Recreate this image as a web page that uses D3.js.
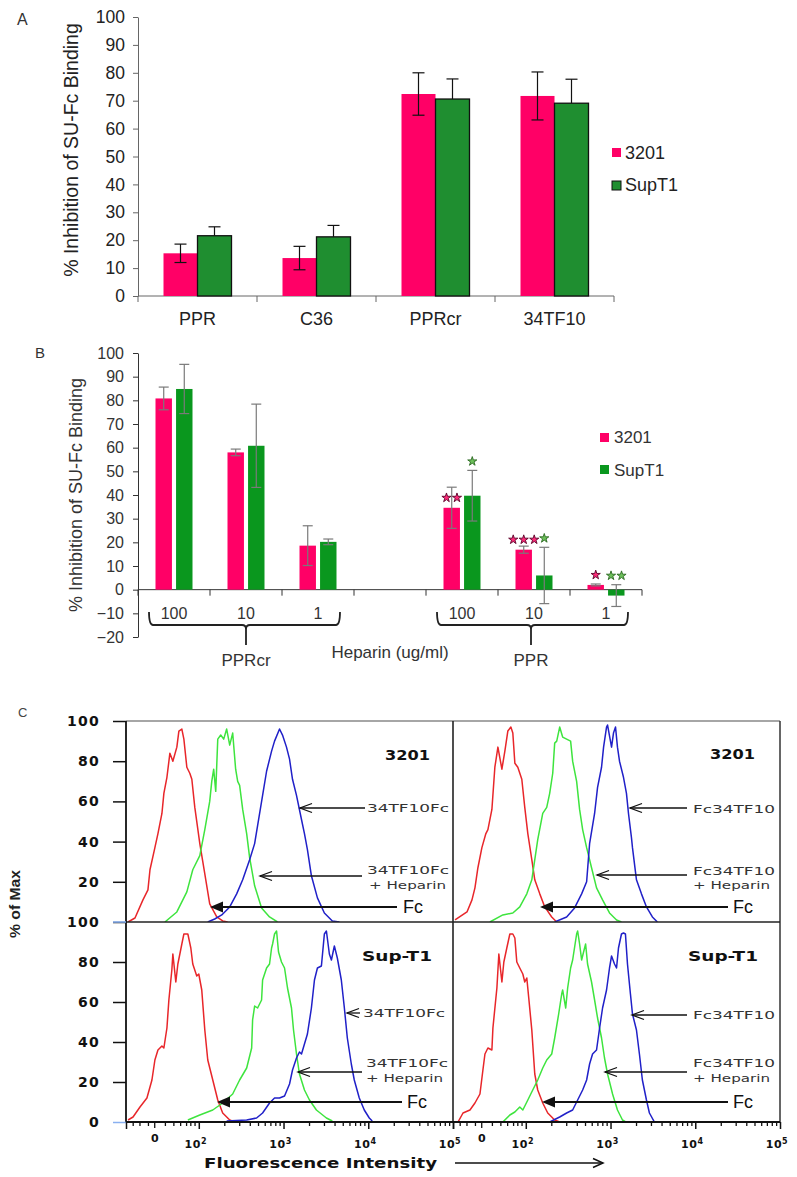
<!DOCTYPE html>
<html><head><meta charset="utf-8">
<script src="https://cdn.jsdelivr.net/npm/d3@7"></script>
<style>
body{margin:0;background:#fff}
svg{display:block}
text{font-family:"Liberation Sans",Arial,Helvetica,sans-serif}
</style></head><body>
<svg id="fig" width="797" height="1177"></svg>
<script>
// ---------------- DATA ----------------
// Panel A
const catsA = ["PPR","C36","PPRcr","34TF10"];
const seriesNames = ["3201","SupT1"];
const a3201 = [15.3,13.6,72.4,71.7];
const a3201Err = [3.3,4.2,7.6,8.6];
const aSupT1 = [21.6,21.2,70.6,69.1];
const aSupT1Err = [3.2,4.1,7.2,8.6];
const ticksA = [0,10,20,30,40,50,60,70,80,90,100];

// Panel B
const slotsB = ["PPRcr-100","PPRcr-10","PPRcr-1","blank","PPR-100","PPR-10","PPR-1"];
const concB  = ["100","10","1","","100","10","1"];
const groupNamesB = ["PPRcr","PPR"];
const groupSlotsB = [["PPRcr-100","PPRcr-1"],["PPR-100","PPR-1"]];
const b3201     = [80.8,58.0,18.6,null,34.6,16.9,2.0];
const b3201Err  = [4.8,1.4,8.4,null,8.7,1.5,0.4];
const bSupT1    = [84.8,60.8,20.2,null,39.7,6.0,-2.5];
const bSupT1Err = [10.4,17.6,1.2,null,10.7,11.9,4.6];
const stars3201  = [0,0,0,0,2,3,1];
const starsSupT1 = [0,0,0,0,1,1,2];
const ticksB = [-20,-10,0,10,20,30,40,50,60,70,80,90,100];

// Panel C  (x in decade units of the logicle display, y in % of max)
const xDomainC = [1.141,5];
const yTicksTopC = [20,40,60,80,100];
const yTicksBotC = [0,20,40,60,80,100];
const majorC = [2,3,4,5];
const majorExpC = ["2","3","4","5"];
const zeroC = 1.48;
const minorLeftC = [1.22,1.3,1.4,1.6,1.7,1.78,1.85,1.9,1.95];

const tlRed = [[1.165,0],[1.247,2],[1.341,11],[1.4,16],[1.424,26],[1.482,37],[1.518,44],[1.565,54],[1.588,64],[1.624,72],[1.659,84],[1.694,80],[1.741,87],[1.765,95],[1.8,96],[1.824,91],[1.859,77],[1.894,74],[1.918,71],[1.953,57],[2.012,39],[2.071,24],[2.129,9],[2.212,2.5],[2.282,0.5],[2.34,0]];
const tlGreen = [[1.6,0],[1.741,5],[1.859,15],[1.929,26],[2.012,33],[2.071,46],[2.129,60],[2.153,70],[2.176,76],[2.2,65],[2.224,91],[2.259,93],[2.294,91],[2.329,96],[2.365,88],[2.4,94],[2.435,76],[2.459,70],[2.482,68],[2.518,56],[2.565,44],[2.6,32],[2.659,18],[2.741,7],[2.835,2.5],[2.929,0]];
const tlBlue = [[2.106,0],[2.188,1.5],[2.271,3.5],[2.365,7.5],[2.447,14],[2.518,21],[2.6,31],[2.659,39],[2.694,48],[2.753,63],[2.8,75],[2.859,85],[2.894,90],[2.953,96],[2.988,93],[3.035,87],[3.071,81],[3.106,71],[3.153,63],[3.212,51],[3.247,44],[3.282,36],[3.329,23],[3.4,12],[3.482,4.5],[3.576,0.5],[3.659,0]];
const trRed = [[1.165,1],[1.306,5],[1.365,11],[1.4,17],[1.435,27],[1.482,37],[1.529,44],[1.553,46],[1.6,56],[1.635,77],[1.671,87],[1.718,76],[1.753,85],[1.788,95],[1.824,97],[1.847,94],[1.871,79],[1.906,77],[1.953,71],[1.988,57],[2.024,44],[2.071,31],[2.106,21],[2.165,14],[2.224,7.5],[2.306,2.5],[2.365,0]];
const trGreen = [[1.576,0],[1.729,3.5],[1.847,4.5],[1.929,7.5],[2.012,14],[2.071,21],[2.141,41],[2.2,54],[2.247,57],[2.282,64],[2.318,74],[2.341,89],[2.365,90],[2.4,97],[2.435,92],[2.482,91],[2.529,90],[2.553,80],[2.6,70],[2.635,56],[2.671,46],[2.718,37],[2.776,27],[2.835,17],[2.906,11],[2.988,4.5],[3.071,1],[3.129,0]];
const trBlue = [[2.341,0],[2.482,2.5],[2.576,7],[2.659,14],[2.718,20],[2.753,39],[2.812,54],[2.847,67],[2.894,77],[2.918,87],[2.953,97],[2.965,98],[3.012,87],[3.035,94],[3.059,97],[3.082,87],[3.106,80],[3.153,72],[3.188,64],[3.212,54],[3.247,42],[3.259,37],[3.306,21],[3.365,14],[3.424,7.5],[3.494,2.5],[3.553,0]];
const blRed = [[1.165,1],[1.224,2.5],[1.306,7.5],[1.388,12],[1.447,21],[1.482,31],[1.518,36],[1.565,38],[1.588,37],[1.624,47],[1.647,61],[1.682,76],[1.694,84],[1.729,70],[1.753,79],[1.8,89],[1.824,94],[1.847,94],[1.871,94],[1.906,87],[1.929,79],[1.976,73],[2.0,74],[2.035,66],[2.071,46],[2.106,31],[2.165,21],[2.224,11],[2.282,4.5],[2.365,1],[2.424,0]];
const blGreen = [[1.871,1],[2.012,3.5],[2.165,6],[2.282,9.5],[2.4,14],[2.482,21],[2.565,27],[2.624,37],[2.635,51],[2.659,58],[2.694,57],[2.741,61],[2.753,71],[2.8,77],[2.835,79],[2.859,87],[2.871,89],[2.894,94],[2.918,95.5],[2.941,85],[2.976,80],[3.012,77],[3.047,67],[3.094,57],[3.118,46],[3.153,34],[3.188,24],[3.247,16],[3.306,11],[3.388,6],[3.506,2],[3.576,0.5]];
const blBlue = [[2.329,0.5],[2.565,1],[2.682,2],[2.753,4.5],[2.835,9.5],[2.894,12],[2.953,12],[3.012,13],[3.071,19],[3.106,26],[3.153,32],[3.188,35],[3.212,34],[3.247,39],[3.282,44],[3.329,57],[3.365,71],[3.4,77],[3.447,78],[3.482,94],[3.506,95.5],[3.541,84],[3.565,81],[3.6,88],[3.635,82],[3.682,71],[3.718,57],[3.753,42],[3.8,29],[3.835,21],[3.894,12],[3.953,6],[4.012,2],[4.047,0.5]];
const brRed = [[1.2,0],[1.259,4.5],[1.341,6],[1.4,9.5],[1.459,14],[1.494,26],[1.518,34],[1.553,37],[1.6,36],[1.612,47],[1.659,67],[1.682,84],[1.718,70],[1.741,80],[1.776,87],[1.812,94],[1.847,94],[1.871,92],[1.894,80],[1.929,77],[1.965,74],[1.988,70],[2.012,72],[2.035,62],[2.071,46],[2.106,24],[2.141,16],[2.2,9.5],[2.259,4.5],[2.341,1],[2.4,0]];
const brGreen = [[1.729,0],[1.812,3.5],[1.871,5],[1.929,7.5],[1.965,6],[2.024,11],[2.082,16],[2.141,21],[2.2,27],[2.247,31],[2.306,34],[2.341,42],[2.388,54],[2.424,64],[2.435,66],[2.471,57],[2.494,67],[2.529,77],[2.553,81],[2.6,94],[2.612,95.5],[2.635,89],[2.659,81],[2.682,85],[2.706,89],[2.729,79],[2.776,70],[2.812,61],[2.847,52],[2.894,42],[2.929,32],[2.965,24],[3.024,14],[3.082,6],[3.141,1],[3.18,0]];
const brBlue = [[2.282,0],[2.4,2.5],[2.482,4.5],[2.553,6],[2.612,11],[2.671,16],[2.718,21],[2.753,29],[2.788,34],[2.835,36],[2.871,47],[2.906,57],[2.953,66],[2.988,77],[3.012,83],[3.047,79],[3.071,77],[3.094,87],[3.129,94],[3.153,94.5],[3.176,94],[3.2,79],[3.235,64],[3.259,54],[3.306,46],[3.341,34],[3.376,21],[3.424,11],[3.459,4.5],[3.518,0]];

// ---------------- DRAW ----------------
const svg = d3.select("#fig");
const PINK = "#FF0066", GREEN_A = "#1F8E30", GREEN_B = "#0A971E";

// ===== Panel A =====
const gA = svg.append("g");
gA.append("text").attr("x",17).attr("y",25).attr("font-size",16).attr("fill","#333").text("A");
const xA = d3.scaleBand().domain(catsA).range([138,614]);
const sA = d3.scaleBand().domain(seriesNames).range([xA.bandwidth()/2-34, xA.bandwidth()/2+34]);
const yA = d3.scaleLinear().domain([0,100]).range([296,17]);

const yAxA = gA.append("g").attr("transform","translate(138,0)")
  .call(d3.axisLeft(yA).tickValues(ticksA).tickSize(5).tickSizeOuter(0).tickPadding(8));
yAxA.selectAll("text").attr("font-size",17.5).attr("fill","#222").style("font-family","Liberation Sans,Arial,sans-serif");
yAxA.selectAll("line,path").attr("stroke","#666");

const xAxA = gA.append("g").attr("transform","translate(0,296)")
  .call(d3.axisBottom(xA).tickSize(0).tickPadding(16));
xAxA.select(".domain").remove();
xAxA.selectAll("text").attr("font-size",18).attr("fill","#222").style("font-family","Liberation Sans,Arial,sans-serif");
gA.append("line").attr("x1",138).attr("x2",614).attr("y1",296).attr("y2",296).attr("stroke","#666");
gA.selectAll(".bndA").data(catsA.map(c=>xA(c)).concat([xA.range()[1]])).enter().append("line")
  .attr("x1",d=>d).attr("x2",d=>d).attr("y1",296).attr("y2",302).attr("stroke","#666");

const dataA = catsA.map((c,i)=>({c, s:[{k:"3201",v:a3201[i],e:a3201Err[i]},{k:"SupT1",v:aSupT1[i],e:aSupT1Err[i]}]}));
dataA.forEach(d=>{
  d.s.forEach(s=>{
    const x0 = xA(d.c)+sA(s.k), w = sA.bandwidth();
    gA.append("rect").attr("x",x0).attr("y",yA(s.v)).attr("width",w).attr("height",yA(0)-yA(s.v))
      .attr("fill", s.k==="3201"?PINK:GREEN_A)
      .attr("stroke", s.k==="3201"?"none":"#111").attr("stroke-width",1.3);
    const cx = x0+w/2;
    const lo = s.k==="3201" ? s.v - s.e : s.v;
    gA.append("line").attr("x1",cx).attr("x2",cx).attr("y1",yA(s.v+s.e)).attr("y2",yA(lo)).attr("stroke","#111").attr("stroke-width",1.2);
    gA.append("line").attr("x1",cx-6).attr("x2",cx+6).attr("y1",yA(s.v+s.e)).attr("y2",yA(s.v+s.e)).attr("stroke","#111").attr("stroke-width",1.2);
    if (s.k==="3201") gA.append("line").attr("x1",cx-6).attr("x2",cx+6).attr("y1",yA(lo)).attr("y2",yA(lo)).attr("stroke","#111").attr("stroke-width",1.2);
  });
});
gA.append("text").attr("transform","translate(78,150) rotate(-90)").attr("text-anchor","middle")
  .attr("font-size",19.5).attr("fill","#222").text("% Inhibition of SU-Fc Binding");
// legend A
gA.append("rect").attr("x",612).attr("y",148).attr("width",9).attr("height",9).attr("fill",PINK);
gA.append("rect").attr("x",612).attr("y",181).attr("width",9).attr("height",9).attr("fill",GREEN_A).attr("stroke","#111").attr("stroke-width",1);
gA.append("text").attr("x",625).attr("y",159).attr("font-size",18).attr("fill","#222").text(seriesNames[0]);
gA.append("text").attr("x",625).attr("y",191).attr("font-size",18).attr("fill","#222").text(seriesNames[1]);

// ===== Panel B =====
const gB = svg.append("g");
gB.append("text").attr("x",35).attr("y",358).attr("font-size",15).attr("fill","#333").text("B");
const xB = d3.scaleBand().domain(slotsB).range([138,642]);
const sB = d3.scaleBand().domain(seriesNames).range([xB.bandwidth()/2-18.5, xB.bandwidth()/2+18.5]).paddingInner(0.2);
const yB = d3.scaleLinear().domain([-20,100]).range([637,353]);

const yAxB = gB.append("g").attr("transform","translate(138,0)")
  .call(d3.axisLeft(yB).tickValues(ticksB).tickSize(5).tickSizeOuter(0).tickPadding(9));
yAxB.selectAll("text").attr("font-size",16).attr("fill","#333").style("font-family","Liberation Sans,Arial,sans-serif");
yAxB.selectAll("line,path").attr("stroke","#333");

const xAxB = gB.append("g").attr("transform",`translate(0,${yB(0)})`)
  .call(d3.axisBottom(xB).tickSize(0).tickPadding(18).tickFormat((d,i)=>concB[i]));
xAxB.select(".domain").remove();
xAxB.selectAll("text").attr("font-size",16).attr("fill","#333").style("font-family","Liberation Sans,Arial,sans-serif");
gB.append("line").attr("x1",138).attr("x2",642).attr("y1",yB(0)).attr("y2",yB(0)).attr("stroke","#333");
gB.selectAll(".bndB").data(slotsB.map(c=>xB(c)).concat([xB.range()[1]])).enter().append("line")
  .attr("x1",d=>d).attr("x2",d=>d).attr("y1",yB(0)).attr("y2",yB(0)+6).attr("stroke","#333");

const starSym = d3.symbol().type(d3.symbolStar).size(26);
slotsB.forEach((slot,i)=>{
  if (b3201[i]===null) return;
  [{k:"3201",v:b3201[i],e:b3201Err[i],n:stars3201[i]},{k:"SupT1",v:bSupT1[i],e:bSupT1Err[i],n:starsSupT1[i]}].forEach(s=>{
    const x0 = xB(slot)+sB(s.k), w = sB.bandwidth(), cx = x0+w/2;
    gB.append("rect").attr("x",x0).attr("y",yB(Math.max(0,s.v))).attr("width",w)
      .attr("height",Math.abs(yB(0)-yB(s.v))).attr("fill",s.k==="3201"?PINK:GREEN_B);
    const top = yB(s.v+s.e), bot = yB(s.v-s.e);
    gB.append("line").attr("x1",cx).attr("x2",cx).attr("y1",top).attr("y2",bot).attr("stroke","#7a7a7a").attr("stroke-width",1.2);
    [top,bot].forEach(yy=>gB.append("line").attr("x1",cx-5).attr("x2",cx+5).attr("y1",yy).attr("y2",yy).attr("stroke","#7a7a7a").attr("stroke-width",1.2));
    if (s.n>0){
      const sy = s.k==="3201" ? yB(Math.max(0,s.v))-10 : top-9;
      for (let j=0;j<s.n;j++){
        const sx = cx + (j-(s.n-1)/2)*10.5;
        gB.append("path").attr("d",starSym()).attr("transform",`translate(${sx},${sy})`)
          .attr("fill", s.k==="3201"?"#FF2A78":"#6CC05A")
          .attr("stroke", s.k==="3201"?"#5A0028":"#2C6A22").attr("stroke-width",0.9);
      }
    }
  });
});
// braces
groupSlotsB.forEach((gs,gi)=>{
  const x0 = xB(gs[0])+11, x1 = xB(gs[1])+xB.bandwidth()-14;
  const xm = xB(slotsB[slotsB.indexOf(gs[0])+1])+xB.bandwidth()/2 - (gi?3:0);
  const yt = 612, yh = 625, ys = 645;
  gB.append("path").attr("d",
    `M${x0},${yt} Q${x0},${yh} ${x0+4},${yh} L${xm-4},${yh} Q${xm},${yh} ${xm},${yh+4} L${xm},${ys} M${xm},${yh+4} Q${xm},${yh} ${xm+4},${yh} L${x1-4},${yh} Q${x1},${yh} ${x1},${yt}`)
    .attr("fill","none").attr("stroke","#222").attr("stroke-width",1.8);
  gB.append("text").attr("x",xm).attr("y",666).attr("text-anchor","middle").attr("font-size",17).attr("fill","#333").text(groupNamesB[gi]);
});
gB.append("text").attr("x",390).attr("y",658).attr("text-anchor","middle").attr("font-size",17).attr("fill","#333").text("Heparin (ug/ml)");
gB.append("text").attr("transform","translate(82,495) rotate(-90)").attr("text-anchor","middle")
  .attr("font-size",18).attr("fill","#333").text("% Inhibition of SU-Fc Binding");
gB.append("rect").attr("x",600).attr("y",433).attr("width",9).attr("height",9).attr("fill",PINK);
gB.append("rect").attr("x",600).attr("y",465).attr("width",9).attr("height",9).attr("fill",GREEN_B);
gB.append("text").attr("x",614).attr("y",443).attr("font-size",17).attr("fill","#333").text(seriesNames[0]);
gB.append("text").attr("x",614).attr("y",476).attr("font-size",17).attr("fill","#333").text(seriesNames[1]);

// ===== Panel C =====
const gC = svg.append("g");
gC.append("text").attr("x",18).attr("y",717).attr("font-size",13).attr("fill","#444").text("C");
const colL = [126,453], colR = [453,780], rowT = [721,922], rowB = [922,1122];
const xC = [d3.scaleLinear().domain(xDomainC).range(colL), d3.scaleLinear().domain(xDomainC).range(colR)];
const yC = [d3.scaleLinear().domain([0,100]).range([rowT[1],rowT[0]]), d3.scaleLinear().domain([0,100]).range([rowB[1],rowB[0]])];
const defs = svg.append("defs");
const quads = [
  {id:"tl", xi:0, yi:0, curves:[tlRed,tlGreen,tlBlue], label:"3201", ann:"34TF10Fc"},
  {id:"tr", xi:1, yi:0, curves:[trRed,trGreen,trBlue], label:"3201", ann:"Fc34TF10"},
  {id:"bl", xi:0, yi:1, curves:[blRed,blGreen,blBlue], label:"Sup-T1", ann:"34TF10Fc"},
  {id:"br", xi:1, yi:1, curves:[brRed,brGreen,brBlue], label:"Sup-T1", ann:"Fc34TF10"}
];
const curveColors = ["#E8262A","#3EE43E","#2020C8"];
quads.forEach(q=>{
  const x = xC[q.xi], y = yC[q.yi];
  const [l,r] = x.range(), [b,t] = y.range();
  defs.append("clipPath").attr("id","clip-"+q.id).append("rect").attr("x",l).attr("y",t-2).attr("width",r-l).attr("height",b-t+2);
  const line = d3.line().x(d=>x(d[0])).y(d=>y(d[1]));
  const gq = gC.append("g").attr("clip-path",`url(#clip-${q.id})`);
  q.curves.forEach((c,ci)=>{
    gq.append("path").attr("d",line(c)).attr("fill","none").attr("stroke",curveColors[ci]).attr("stroke-width",1.5).attr("stroke-linejoin","round");
  });
});
// frame
const fr = (x1,y1,x2,y2,c,w)=>gC.append("line").attr("x1",x1).attr("y1",y1).attr("x2",x2).attr("y2",y2).attr("stroke",c).attr("stroke-width",w);
fr(126,721,780,721,"#888",1.5);
fr(780,721,780,1122,"#333",1.5);
fr(453,721,453,1122,"#222",1.6);
fr(126,922,780,922,"#222",1.6);
fr(126,1122,780,1122,"#111",1.8);
fr(126,721,126,1122,"#111",1.8);

// y axes
[[yC[0],yTicksTopC],[yC[1],yTicksBotC]].forEach(([ys,tv],k)=>{
  const ax = gC.append("g").attr("transform","translate(126,0)")
    .call(d3.axisLeft(ys).tickValues(tv).tickSize(13).tickSizeOuter(0).tickPadding(13));
  ax.select(".domain").remove();
  ax.selectAll("text").attr("font-size",14).attr("font-weight","bold").attr("letter-spacing",1.3)
    .attr("fill","#111").style("font-family","DejaVu Sans,sans-serif");
  ax.selectAll("line").attr("stroke",d=>d===0?"#8AB0F0":"#111").attr("stroke-width",1.5);
});
fr(113,922,126,922,"#8AB0F0",1.6);

// x axes (bottom)
xC.forEach(xs=>{
  const minors = minorLeftC.concat(d3.range(2,5).flatMap(dd=>d3.range(2,10).map(k=>Math.log10(k)+dd)));
  const axm = gC.append("g").attr("transform","translate(0,1122)")
    .call(d3.axisBottom(xs).tickValues(minors).tickSize(4).tickSizeOuter(0).tickFormat(""));
  axm.select(".domain").remove();
  axm.selectAll("line").attr("stroke","#111").attr("stroke-width",1.3);
  const axM = gC.append("g").attr("transform","translate(0,1122)")
    .call(d3.axisBottom(xs).tickValues([xDomainC[0]].concat(majorC)).tickSize(7).tickSizeOuter(0).tickPadding(10).tickFormat(""));
  axM.select(".domain").remove();
  axM.selectAll("line").attr("stroke","#111").attr("stroke-width",1.5);
  majorC.forEach((v,i)=>{
    const t = gC.append("text").attr("x",xs(v)-3).attr("y",1148).attr("text-anchor","middle").attr("font-size",11)
      .attr("font-weight","bold").attr("fill","#111").attr("letter-spacing",0.5).style("font-family","DejaVu Sans,sans-serif");
    t.append("tspan").text("10");
    t.append("tspan").attr("dy",-4).attr("font-size",8).text(majorExpC[i]);
  });
  gC.append("text").attr("x",xs(zeroC)).attr("y",1142).attr("text-anchor","middle").attr("font-size",11)
    .attr("font-weight","bold").attr("fill","#111").style("font-family","DejaVu Sans,sans-serif").text("0");
  gC.append("line").attr("x1",xs(zeroC)).attr("x2",xs(zeroC)).attr("y1",1122).attr("y2",1128).attr("stroke","#111").attr("stroke-width",1.3);
});

// annotations (layout offsets relative to each quadrant's top-left corner)
const annFont = "DejaVu Sans,sans-serif";
function chevron(g,tx,ty,tail){
  g.append("line").attr("x1",tail).attr("x2",tx).attr("y1",ty).attr("y2",ty).attr("stroke","#111").attr("stroke-width",1.3);
  g.append("path").attr("d",`M${tx+12},${ty-4.5} L${tx},${ty} L${tx+12},${ty+4.5}`).attr("fill","none").attr("stroke","#111").attr("stroke-width",1.3);
}
function solidArrow(g,tx,ty,tail){
  g.append("line").attr("x1",tail).attr("x2",tx+8).attr("y1",ty).attr("y2",ty).attr("stroke","#111").attr("stroke-width",2);
  g.append("path").attr("d",`M${tx},${ty} L${tx+13},${ty-5.5} L${tx+13},${ty+5.5} Z`).attr("fill","#111");
}
const annLayout = {
  tl:{lab:[259,39,45], a1:[174,87,239], t1:[241,91], a2:[134,155,236], t2:[241,153], t3:[243,168], fc:[84,186,271], fct:[277,192]},
  tr:{lab:[257,38,45], a1:[177,87,234], t1:[240,92], a2:[144,154,234], t2:[240,154], t3:[240,168], fc:[87,186,275], fct:[280,192]},
  bl:{lab:[236,39,70], a1:[221,91,234], t1:[237,95], a2:[172,150,236], t2:[240,145], t3:[240,160], fc:[91,180,276], fct:[281,186]},
  br:{lab:[235,39,70], a1:[179,93,234], t1:[240,97], a2:[152,150,234], t2:[240,145], t3:[240,160], fc:[89,180,275], fct:[280,186]}
};
quads.forEach(q=>{
  const L = annLayout[q.id];
  const ox = xC[q.xi].range()[0], oy = yC[q.yi].range()[1];
  const g = gC.append("g").attr("transform",`translate(${ox},${oy})`);
  g.append("text").attr("x",L.lab[0]).attr("y",L.lab[1]).attr("font-size",14).attr("font-weight","bold")
    .attr("textLength",L.lab[2]).attr("lengthAdjust","spacingAndGlyphs").attr("fill","#111").style("font-family",annFont).text(q.label);
  chevron(g,L.a1[0],L.a1[1],L.a1[2]);
  chevron(g,L.a2[0],L.a2[1],L.a2[2]);
  solidArrow(g,L.fc[0],L.fc[1],L.fc[2]);
  const t = (p,s,len)=>g.append("text").attr("x",p[0]).attr("y",p[1]).attr("font-size",11).attr("fill","#333")
    .attr("textLength",len).attr("lengthAdjust","spacingAndGlyphs").style("font-family",annFont).text(s);
  t(L.t1,q.ann,82); t(L.t2,q.ann,82); t(L.t3,"+ Heparin",77);
  g.append("text").attr("x",L.fct[0]).attr("y",L.fct[1]).attr("font-size",18).attr("fill","#111").text("Fc");
});

gC.append("text").attr("transform","translate(20,904) rotate(-90)").attr("text-anchor","middle")
  .attr("font-size",15).attr("font-weight","bold").attr("textLength",68).attr("lengthAdjust","spacingAndGlyphs")
  .attr("fill","#222").text("% of Max");
gC.append("text").attr("x",204).attr("y",1168).attr("font-size",14).attr("font-weight","bold")
  .attr("textLength",233).attr("lengthAdjust","spacingAndGlyphs").attr("fill","#111").style("font-family",annFont).text("Fluorescence Intensity");
fr(455,1163,603,1163,"#111",1.5);
gC.append("path").attr("d","M593,1158.5 L603,1163 L593,1167.5").attr("fill","none").attr("stroke","#111").attr("stroke-width",1.5);
</script></body></html>
